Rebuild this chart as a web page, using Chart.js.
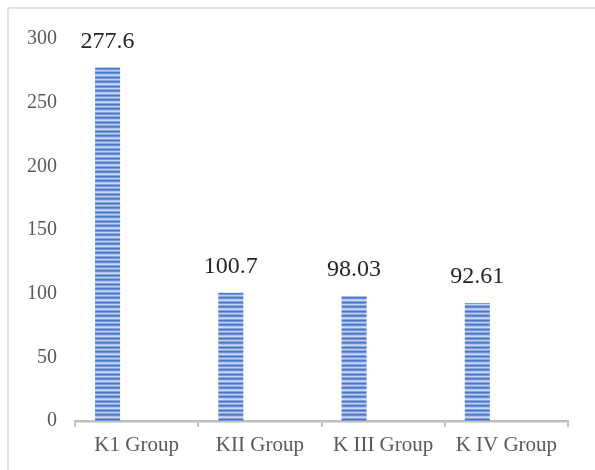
<!DOCTYPE html>
<html>
<head>
<meta charset="utf-8">
<script src="https://cdn.jsdelivr.net/npm/chart.js@4/dist/chart.umd.min.js"></script>
<style>
  html, body { margin: 0; padding: 0; background: #fff; }
  #wrap { width: 595px; height: 470px; position: relative; }
</style>
</head>
<body>
<div id="wrap"><canvas id="chart" width="595" height="470"></canvas></div>
<script>
const groups = ['K1 Group', 'KII Group', 'K III Group', 'K IV Group'];
const values = [277.6, 100.7, 98.03, 92.61];
const valueLabels = ['277.6', '100.7', '98.03', '92.61'];
// the original is a clustered chart where only the first series has data
const emptySeries = [null, null, null, null];

// horizontal stripe fill like the original
function makeStripes() {
  const c = document.createElement('canvas');
  c.width = 4;
  c.height = 9;
  const g = c.getContext('2d');
  const rows = ['#4a77c8', '#6b90d5', '#adc3ea', '#cddaf3', '#82a1dc',
                '#4a77c8', '#769ad9', '#bccff0', '#8eaae0'];
  rows.forEach((col, i) => {
    g.fillStyle = col;
    g.fillRect(0, i, 4, 1);
  });
  return g.createPattern(c, 'repeat');
}

// frame lines (top and left only are in view)
const framePlugin = {
  id: 'frame',
  beforeDraw(chart) {
    const ctx = chart.ctx;
    ctx.save();
    ctx.strokeStyle = '#d9d9d9';
    ctx.lineWidth = 1.5;
    ctx.beginPath();
    ctx.moveTo(8, 480);
    ctx.lineTo(8, 8);
    ctx.lineTo(600, 8);
    ctx.stroke();
    ctx.restore();
  }
};

// value labels above bars
const valuePlugin = {
  id: 'values',
  afterDatasetsDraw(chart) {
    const ctx = chart.ctx;
    const meta = chart.getDatasetMeta(0);
    ctx.save();
    ctx.font = '24px "Liberation Serif", "Times New Roman", serif';
    ctx.fillStyle = '#262626';
    ctx.textAlign = 'center';
    ctx.textBaseline = 'middle';
    meta.data.forEach((bar, i) => {
      ctx.fillText(valueLabels[i], bar.x, bar.y - 26);
    });
    ctx.restore();
  }
};

const barOpts = { borderWidth: 0, categoryPercentage: 0.707, barPercentage: 0.862 };

new Chart(document.getElementById('chart'), {
  type: 'bar',
  data: {
    labels: groups,
    datasets: [
      Object.assign({ data: values, backgroundColor: makeStripes() }, barOpts),
      Object.assign({ data: emptySeries, backgroundColor: '#ffffff' }, barOpts),
      Object.assign({ data: emptySeries, backgroundColor: '#ffffff' }, barOpts)
    ]
  },
  options: {
    responsive: false,
    animation: false,
    layout: { padding: { top: 39, right: 27, left: 0, bottom: 0 } },
    plugins: {
      legend: { display: false },
      tooltip: { enabled: false }
    },
    scales: {
      x: {
        grid: {
          display: true,
          drawOnChartArea: false,
          drawTicks: true,
          tickLength: 6,
          color: '#bfbfbf',
          lineWidth: 2,
          offset: true
        },
        border: { display: true, color: '#bfbfbf', width: 2.5 },
        ticks: {
          color: '#595959',
          padding: 6,
          maxRotation: 0,
          font: { family: '"Liberation Serif", "Times New Roman", serif', size: 21 }
        },
        afterFit(scale) { scale.height = 49; }
      },
      y: {
        min: 0,
        max: 300,
        grid: { display: false },
        border: { display: false },
        ticks: {
          stepSize: 50,
          color: '#595959',
          padding: 10,
          font: { family: '"Liberation Serif", "Times New Roman", serif', size: 20 }
        },
        afterFit(scale) { scale.width = 75; }
      }
    }
  },
  plugins: [framePlugin, valuePlugin]
});
</script>
</body>
</html>
